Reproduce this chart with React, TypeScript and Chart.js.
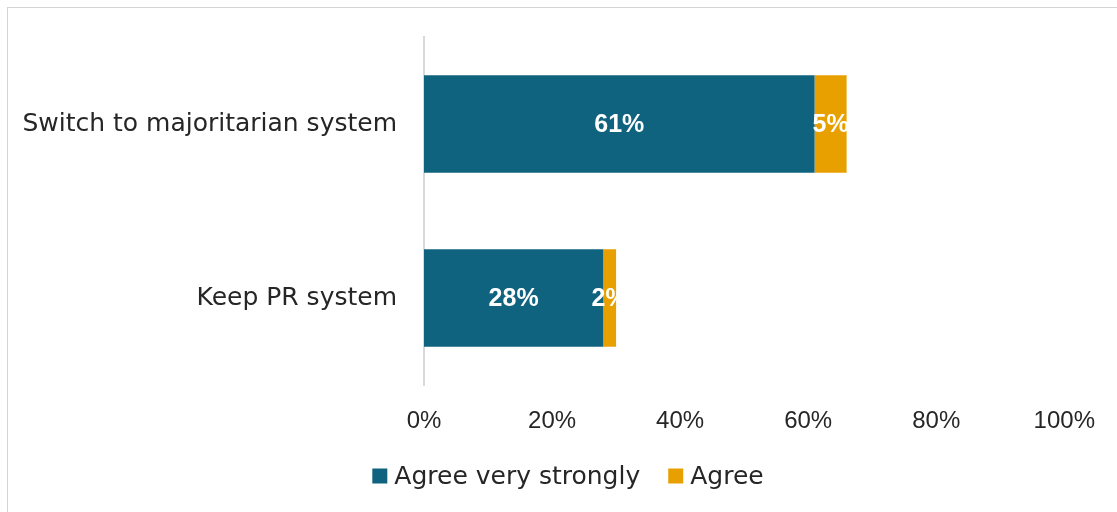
import React, { useEffect, useRef } from "react";
import { Chart, registerables } from "chart.js";

Chart.register(...registerables);

const categories = ["Switch to majoritarian system", "Keep PR system"];
const agreeVeryStrongly = [61, 28];
const agree = [5, 2];
const seriesNames = ["Agree very strongly", "Agree"];
const seriesColors = ["#10637E", "#E8A000"];
const tickValues = [0, 20, 40, 60, 80, 100];

const FONT = "'DejaVu Sans', sans-serif";
const NUM_FONT = "'Liberation Sans', Arial, sans-serif";
const TEXT = "#262626";

const labelPlugin = {
  id: "segLabels",
  afterDatasetsDraw(chart: any) {
    const ctx = chart.ctx;
    ctx.save();
    ctx.fillStyle = "#ffffff";
    ctx.font = `bold 25px ${NUM_FONT}`;
    ctx.textAlign = "center";
    ctx.textBaseline = "middle";
    chart.data.datasets.forEach((ds: any, di: number) => {
      const meta = chart.getDatasetMeta(di);
      meta.data.forEach((el: any, i: number) => {
        const v = ds.data[i];
        const cx = (el.x + el.base) / 2;
        ctx.fillText(`${v}%`, cx, el.y + 1);
      });
    });
    ctx.restore();
  },
};

const legendPlugin = {
  id: "customLegend",
  afterDraw(chart: any) {
    const ctx = chart.ctx;
    const box = 15;
    const gapBoxText = 7;
    const gapItems = 28;
    const cy = 476;
    const centerX = 568;
    ctx.save();
    ctx.font = `25px ${FONT}`;
    ctx.textBaseline = "middle";
    ctx.textAlign = "left";
    const items = chart.data.datasets.map((ds: any) => ({
      label: ds.label,
      color: ds.backgroundColor,
      w: ctx.measureText(ds.label).width,
    }));
    const total =
      items.reduce((s: number, it: any) => s + box + gapBoxText + it.w, 0) +
      gapItems * (items.length - 1);
    let x = centerX - total / 2;
    items.forEach((it: any) => {
      ctx.fillStyle = it.color;
      ctx.fillRect(x, cy - box / 2, box, box);
      x += box + gapBoxText;
      ctx.fillStyle = TEXT;
      ctx.fillText(it.label, x, cy + 1);
      x += it.w + gapItems;
    });
    ctx.restore();
  },
};

export default function App() {
  const ref = useRef<HTMLCanvasElement | null>(null);
  useEffect(() => {
    if (!ref.current) return;
    const chart = new Chart(ref.current, {
      type: "bar",
      data: {
        labels: categories,
        datasets: [
          {
            label: seriesNames[0],
            data: agreeVeryStrongly,
            backgroundColor: seriesColors[0],
            barPercentage: 0.56,
            categoryPercentage: 1,
          },
          {
            label: seriesNames[1],
            data: agree,
            backgroundColor: seriesColors[1],
            barPercentage: 0.56,
            categoryPercentage: 1,
          },
        ],
      },
      options: {
        indexAxis: "y",
        animation: false,
        responsive: false,
        layout: { padding: { top: 37, right: 48, bottom: 57, left: 0 } },
        scales: {
          x: {
            stacked: true,
            min: 0,
            max: 100,
            afterBuildTicks: (axis: any) => {
              axis.ticks = tickValues.map((v) => ({ value: v }));
            },
            ticks: {
              callback: (v: any) => `${v}%`,
              color: TEXT,
              font: { family: NUM_FONT, size: 24 },
              padding: 22,
              maxRotation: 0,
            },
            grid: { display: false, drawTicks: false },
            border: { display: false },
            afterFit: (axis: any) => {
              axis.height = 70;
            },
          },
          y: {
            stacked: true,
            ticks: {
              color: TEXT,
              font: { family: FONT, size: 25 },
              padding: 27,
            },
            grid: { display: false, drawTicks: false },
            border: { display: true, color: "#d9d9d9", width: 2 },
            afterFit: (axis: any) => {
              axis.width = 424;
              axis.paddingTop = 0;
              axis.paddingBottom = 0;
            },
          },
        },
        plugins: {
          legend: { display: false },
          tooltip: { enabled: false },
        },
      },
      plugins: [labelPlugin, legendPlugin],
    } as any);
    return () => chart.destroy();
  }, []);

  return (
    <div style={{ position: "fixed", left: 0, top: 0, width: 1117, height: 512, background: "#fff" }}>
      <div
        style={{
          position: "absolute",
          left: 7,
          top: 7,
          width: 1130,
          height: 520,
          borderLeft: "1px solid #d4d4d4",
          borderTop: "1px solid #d4d4d4",
        }}
      />
      <canvas ref={ref} width={1117} height={512} style={{ position: "absolute", left: 0, top: 0 }} />
    </div>
  );
}
